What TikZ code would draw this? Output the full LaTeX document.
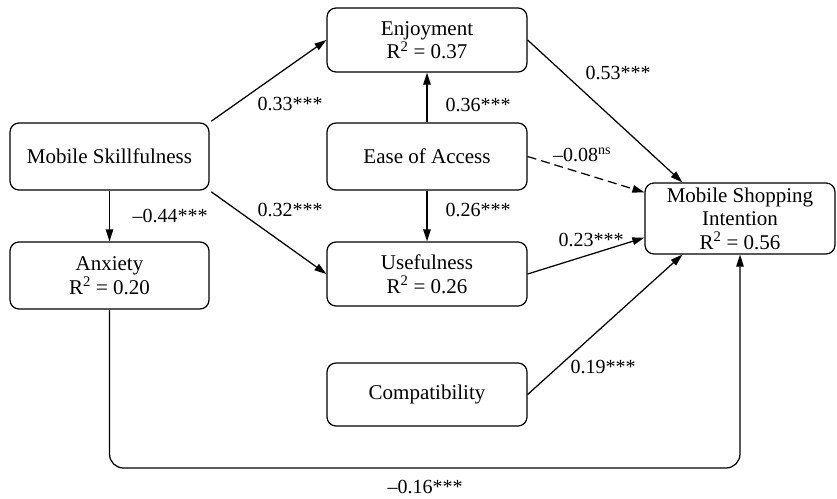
\documentclass[tikz,border=0pt]{standalone}
\usepackage{fontspec}
\setmainfont{Liberation Serif}
\usetikzlibrary{arrows.meta,calc}
\begin{document}
\begin{tikzpicture}[x=1pt,y=-1pt,
  box/.style={draw,line width=1.25pt,rounded corners=9pt,align=center,inner sep=0pt,
    font=\fontsize{21}{23.5}\selectfont},
  lbl/.style={font=\fontsize{20}{22}\selectfont,inner sep=0pt},
  arr/.style={line width=1.25pt,-{Triangle[length=12pt,width=7.5pt]}},
]
\useasboundingbox (0,0) rectangle (837,498);
\node[box,minimum width=199pt,minimum height=67pt] (ms) at (109.5,156.5) {Mobile Skillfulness};
\node[box,minimum width=200pt,minimum height=64pt] (enj) at (427,40) {Enjoyment\\R\textsuperscript{2} = 0.37};
\node[box,minimum width=200pt,minimum height=67pt] (ease) at (427,156.5) {Ease of Access};
\node[box,minimum width=199pt,minimum height=67pt] (anx) at (109.5,275.5) {Anxiety\\R\textsuperscript{2} = 0.20};
\node[box,minimum width=200pt,minimum height=64pt] (use) at (427,274) {Usefulness\\R\textsuperscript{2} = 0.26};
\node[box,minimum width=200pt,minimum height=63pt] (comp) at (427,394.5) {Compatibility};
\node[box,minimum width=190pt,minimum height=71pt] (msi) at (740,218.5) {Mobile Shopping\\Intention\\R\textsuperscript{2} = 0.56};
\coordinate (bot) at (740,468);

\draw[arr,shorten <=2pt] (ms.north east) -- (enj.west);
\draw[arr,shorten <=2pt] (ms.south east) -- (use.west);
\draw[arr] (ms.south) -- (anx.north);
\draw[arr] (ease.north) -- (enj.south);
\draw[arr] (ease.south) -- (use.north);
\draw[arr] (enj.east) -- ($(msi.north west)+(38,0)$);
\draw[arr,dash pattern=on 9pt off 5pt] (ease.east) -- ($(msi.north west)+(0,10)$);
\draw[arr] (use.east) -- ($(msi.south west)+(0,-17)$);
\draw[arr] (comp.east) -- ($(msi.south west)+(38,0)$);
\draw[arr,rounded corners=14pt] (anx.south) |- (bot) -- (msi.south);

\node[lbl] (l1) at (290,104) {0.33***};
\node[lbl] (l2) at (290,210) {0.32***};
\node[lbl] (l3) at (170,216) {–0.44***};
\node[lbl] (l4) at (478,105) {0.36***};
\node[lbl] (l5) at (478,210) {0.26***};
\node[lbl] (l6) at (618,73) {0.53***};
\node[lbl] (l7) at (582,155) {–0.08\textsuperscript{ns}};
\node[lbl] (l8) at (591,240) {0.23***};
\node[lbl] (l9) at (603,367) {0.19***};
\node[lbl] (l10) at (425,487) {–0.16***};
\end{tikzpicture}
\end{document}
